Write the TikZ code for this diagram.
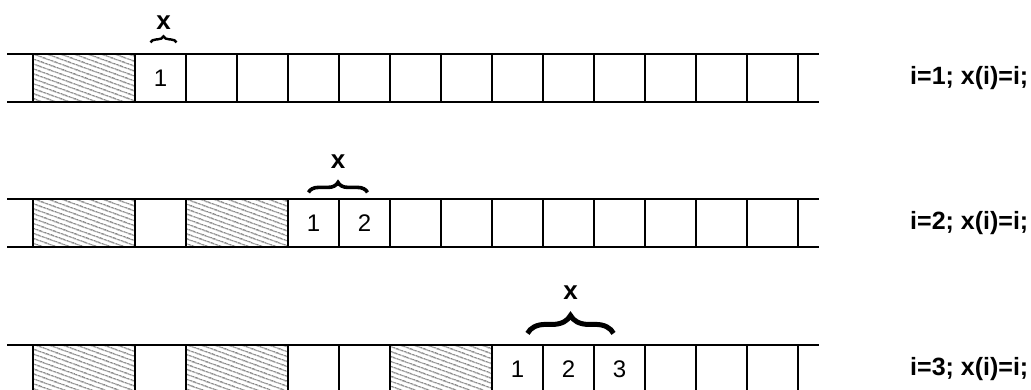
\documentclass[tikz,border=0pt]{standalone}
\usepackage{fontspec}
\setmainfont{Liberation Sans}
\usetikzlibrary{patterns.meta,decorations.pathreplacing,calc}

\begin{document}
\begin{tikzpicture}[
  x=1pt,y=1pt,
  cell/.style={draw,line width=1.2pt,minimum width=51pt,minimum height=48pt,
    inner sep=0pt,font=\fontsize{24}{26}\selectfont},
  hatch/.style={cell,minimum width=102pt,preaction={fill=white},
    pattern={Lines[angle=-20,distance=4pt,line width=1pt]},pattern color=black!75},
  rail/.style={line width=1.2pt},
  xlabel/.style={font=\fontsize{26}{28}\selectfont\bfseries,inner sep=1pt},
  stmt/.style={anchor=west,inner sep=0pt,font=\fontsize{25}{28}\selectfont\bfseries},
  xbrace/.style={decorate,decoration={brace,amplitude=#1}}
]
  \path[use as bounding box,clip] (0,0) rectangle (1031,389);

  % Row 1
  \draw[rail] (7,335) -- (819,335);
  \draw[rail] (7,287) -- (819,287);
  \foreach \i in {0,...,14}
    \node[cell] (a\i) at (58.5+51*\i,311) {};
  \node[hatch] (ah1) at (84,311) {};
  \node[cell] at (a2) {1};
  \draw[xbrace=6pt,line width=2.4pt] ([xshift=-10pt,yshift=11pt]a2.north)
    -- ([xshift=16pt,yshift=11pt]a2.north) node[midway,above=11pt,xlabel] (xa) {x};
  \node[stmt] (sa) at (910,311) {i=1; x(i)=i;};

  % Row 2
  \draw[rail] (7,190) -- (819,190);
  \draw[rail] (7,142) -- (819,142);
  \foreach \i in {0,...,14}
    \node[cell] (b\i) at (58.5+51*\i,166) {};
  \node[hatch] (bh1) at (84,166) {};
  \node[hatch] (bh2) at (237,166) {};
  \node[cell] at (b5) {1};
  \node[cell] at (b6) {2};
  \draw[xbrace=10pt,line width=3.6pt] ([xshift=-5pt,yshift=6pt]b5.north)
    -- ([xshift=3pt,yshift=6pt]b6.north) node[midway,above=21pt,xlabel] (xb) {x};
  \node[stmt] (sb) at (910,166) {i=2; x(i)=i;};

  % Row 3
  \draw[rail] (7,44) -- (819,44);
  \draw[rail] (7,-4) -- (819,-4);
  \foreach \i in {0,...,14}
    \node[cell] (c\i) at (58.5+51*\i,20) {};
  \node[hatch] (ch1) at (84,20) {};
  \node[hatch] (ch2) at (237,20) {};
  \node[hatch] (ch3) at (441,20) {};
  \node[cell] at (c9) {1};
  \node[cell] at (c10) {2};
  \node[cell] at (c11) {3};
  \draw[xbrace=18pt,line width=5pt] ([xshift=10pt,yshift=11pt]c9.north)
    -- ([xshift=-6pt,yshift=11pt]c11.north) node[midway,above=30pt,xlabel] (xc) {x};
  \node[stmt] (sc) at (910,20) {i=3; x(i)=i;};
\end{tikzpicture}
\end{document}
